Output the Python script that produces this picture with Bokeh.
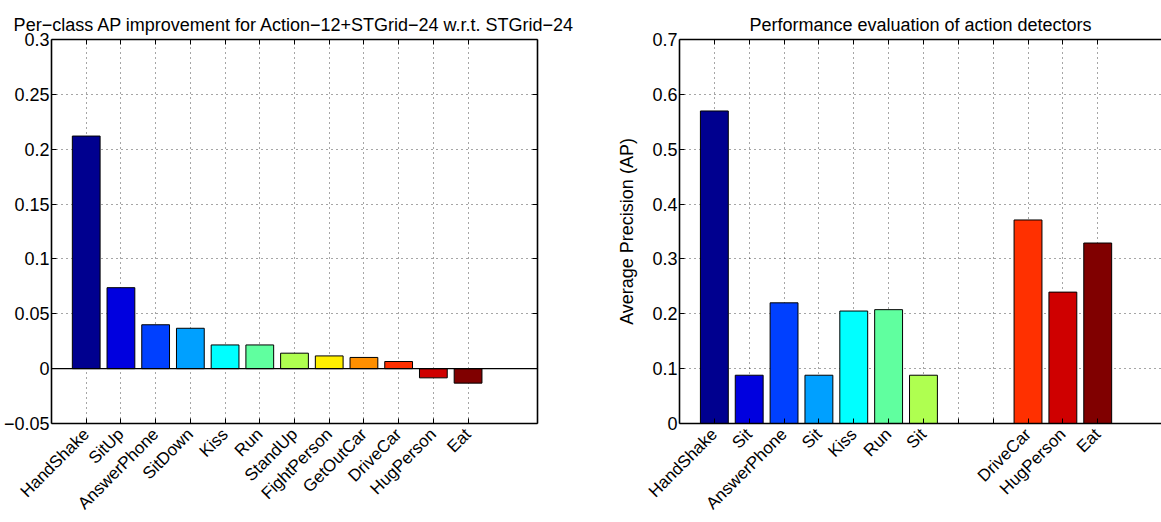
import math
from bokeh.plotting import figure
from bokeh.layouts import row
from bokeh.models import (ColumnDataSource, FixedTicker, CustomJSTickFormatter,
                          LinearAxis, Range1d, Span)
from bokeh.embed import file_html
from bokeh.resources import INLINE

# ---------------- data ----------------
left_title = "Per\u2212class AP improvement for Action\u221212+STGrid\u221224 w.r.t. STGrid\u221224"
left_classes = ["HandShake", "SitUp", "AnswerPhone", "SitDown", "Kiss", "Run",
                "StandUp", "FightPerson", "GetOutCar", "DriveCar", "HugPerson", "Eat"]
left_values = [0.212, 0.0738, 0.040, 0.0368, 0.0216, 0.0216,
               0.0141, 0.0116, 0.0102, 0.0065, -0.0084, -0.0132]
left_yticks = [-0.05, 0, 0.05, 0.1, 0.15, 0.2, 0.25, 0.3]

right_title = "Performance evaluation of action detectors"
right_ylabel = "Average Precision (AP)"
right_classes = ["HandShake", "Sit", "AnswerPhone", "Sit", "Kiss", "Run", "Sit",
                 "", "", "DriveCar", "HugPerson", "Eat"]
right_values = [0.5697, 0.088, 0.220, 0.088, 0.205, 0.2075, 0.088,
                0.0, 0.0, 0.371, 0.2395, 0.329]
right_yticks = [0, 0.1, 0.2, 0.3, 0.4, 0.5, 0.6, 0.7]

bar_colors = ["#00008F", "#0000DF", "#0040FF", "#00A0FF", "#00FFFF", "#60FF9F",
              "#AFFF50", "#FFEF00", "#FF8F00", "#FF3000", "#CF0000", "#800000"]

FONT = "Liberation Sans"
FS = "18px"
FS_X = "17px"

ytick_code = """
var v = parseFloat(tick.toFixed(4));
if (v === 0) return "0";
var s = Math.abs(v).toString();
return (v < 0 ? "\u2212" : "") + s;
"""
xtick_code = """
var i = Math.round(tick) - 1;
if (i < 0 || i >= labels.length) return "";
return labels[i];
"""


def style_axis(ax):
    ax.axis_line_color = "black"
    ax.axis_line_width = 1.6
    ax.major_tick_line_color = "black"
    ax.major_tick_line_width = 1
    ax.major_tick_in = 5
    ax.major_tick_out = 0
    ax.minor_tick_line_color = None
    ax.major_label_text_font = FONT
    ax.major_label_text_font_size = FS
    ax.major_label_text_color = "black"
    ax.axis_label_text_font = FONT
    ax.axis_label_text_font_size = FS
    ax.axis_label_text_font_style = "normal"
    ax.axis_label_text_color = "black"


def make_fig(title, classes, values, yticks, yr, xend, width, mb_left, mb_right,
             ylabel=None, box_right=True):
    p = figure(width=width, height=522, output_backend="svg", toolbar_location=None,
               x_range=Range1d(0, xend), y_range=Range1d(*yr),
               min_border_left=mb_left, min_border_right=mb_right,
               min_border_top=39, min_border_bottom=97,
               background_fill_color="white", border_fill_color="white")
    p.outline_line_color = None
    p.title.text = title
    p.title.align = "center"
    p.title.text_font = FONT
    p.title.text_font_size = FS
    p.title.text_font_style = "normal"
    p.title.text_color = "black"
    p.title.standoff = 10

    xs = list(range(1, len(values) + 1))
    src = ColumnDataSource(dict(x=xs, top=values, color=bar_colors[:len(values)]))
    p.vbar(x="x", top="top", bottom=0, width=0.8, source=src,
           fill_color="color", line_color="black", line_width=1)

    xt = FixedTicker(ticks=xs)
    yt = FixedTicker(ticks=yticks)
    xf = CustomJSTickFormatter(args=dict(labels=classes), code=xtick_code)
    yf = CustomJSTickFormatter(code=ytick_code)

    p.xaxis.ticker = xt
    p.xaxis.formatter = xf
    p.xaxis.major_label_orientation = math.pi / 4
    p.yaxis.ticker = yt
    p.yaxis.formatter = yf
    for ax in p.xaxis + p.yaxis:
        style_axis(ax)
    p.xaxis.major_label_text_font_size = FS_X
    p.xaxis.major_label_standoff = 8
    p.yaxis.major_label_standoff = 2
    if ylabel:
        p.yaxis.axis_label = ylabel
        p.yaxis.axis_label_standoff = 12

    top = LinearAxis(ticker=xt, formatter=xf)
    style_axis(top)
    top.major_label_text_font_size = "0px"
    top.major_label_standoff = 0
    p.add_layout(top, "above")
    if box_right:
        rax = LinearAxis(ticker=yt, formatter=yf)
        style_axis(rax)
        rax.major_label_text_font_size = "0px"
        rax.major_label_standoff = 0
        p.add_layout(rax, "right")

    for g in (p.xgrid, p.ygrid):
        g.grid_line_color = "#222222"
        g.grid_line_alpha = 0.8
        g.grid_line_dash = "1 4"
        g.grid_line_width = 1
    p.xgrid.ticker = xt
    p.ygrid.ticker = yt
    return p


p1 = make_fig(left_title, left_classes, left_values, left_yticks, (-0.05, 0.3), 14,
              580, 50, 43)
p1.add_layout(Span(location=0, dimension="width", line_color="black", line_width=1.3))

p2 = make_fig(right_title, right_classes, right_values, right_yticks, (0, 0.7), 13.83,
              581, 99, 0, ylabel=right_ylabel, box_right=False)

layout = row(p1, p2, spacing=0)
open("out.html", "w").write(file_html(layout, INLINE))
